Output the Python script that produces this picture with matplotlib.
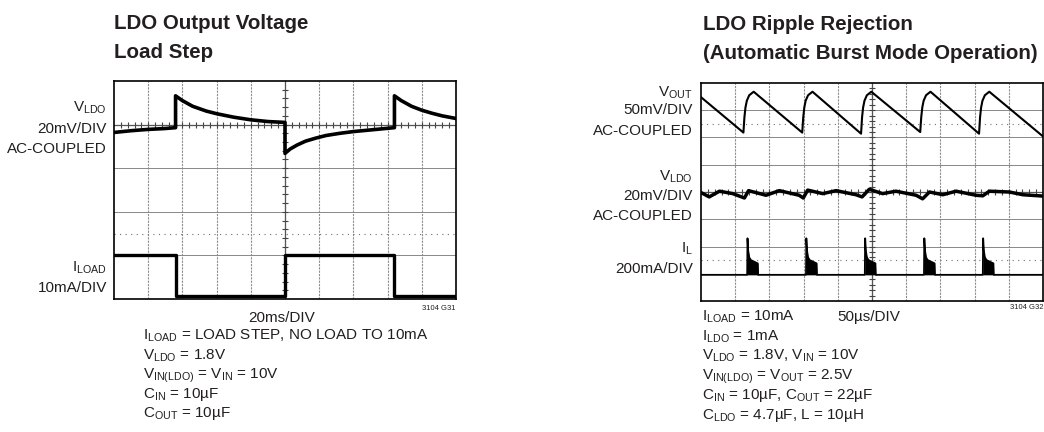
import numpy as np
import matplotlib
matplotlib.use("Agg")
import matplotlib.pyplot as plt

plt.rcParams['font.family'] = ['Liberation Sans', 'DejaVu Sans']
plt.rcParams['mathtext.fontset'] = 'custom'
plt.rcParams['mathtext.rm'] = 'Liberation Sans'

W, H = 1044, 432

# ---- left scope: load step (x in divisions, y in divisions) ----
vldo_t = [0, 0.5, 1.0, 1.5, 1.8, 1.8, 2.0, 2.3, 2.7, 3.0, 3.5, 4.0, 4.5, 5.0,
          5.0, 5.15, 5.35, 5.6, 5.9, 6.2, 6.6, 7.0, 7.4, 7.8, 8.2,
          8.2, 8.4, 8.7, 9.0, 9.3, 9.6, 10.0]
vldo_v = [3.82, 3.86, 3.89, 3.91, 3.93, 4.66, 4.55, 4.42, 4.31, 4.25, 4.17, 4.11, 4.07, 4.05,
          3.34, 3.44, 3.53, 3.62, 3.69, 3.75, 3.80, 3.84, 3.87, 3.90, 3.93,
          4.66, 4.55, 4.42, 4.33, 4.26, 4.20, 4.14]
iload_t = [0, 1.8, 1.8, 5.0, 5.0, 8.2, 8.2, 10.0]
iload_v = [1.0, 1.0, 0.07, 0.07, 1.0, 1.0, 0.07, 0.07]

# ---- right scope: ripple (x in divisions, y in divisions) ----
vout_t = [0,
          1.24, 1.27, 1.30, 1.34, 1.41, 1.54,
          2.96, 2.99, 3.02, 3.06, 3.13, 3.26,
          4.68, 4.71, 4.74, 4.78, 4.85, 4.98,
          6.41, 6.44, 6.47, 6.51, 6.58, 6.71,
          8.13, 8.16, 8.19, 8.23, 8.30, 8.43,
          10.0]
vout_v = [7.48,
          6.18, 6.75, 7.10, 7.35, 7.55, 7.68,
          6.18, 6.75, 7.10, 7.35, 7.55, 7.68,
          6.14, 6.75, 7.10, 7.35, 7.55, 7.68,
          6.20, 6.75, 7.10, 7.35, 7.55, 7.68,
          6.14, 6.75, 7.10, 7.35, 7.55, 7.68,
          6.04]
vldo2_t = [0, 0.24, 0.54, 0.93, 1.27, 1.39, 1.9, 2.29, 2.87, 2.99, 3.12, 3.56, 3.95,
           4.53, 4.71, 4.92, 5.31, 5.7, 6.29, 6.48, 6.68, 7.07, 7.46, 8.04, 8.24,
           8.43, 9.02, 9.41, 10.0]
vldo2_v = [3.98, 3.82, 4.03, 3.94, 3.78, 4.05, 3.88, 4.05, 3.88, 3.78, 4.07, 3.94, 4.05,
           3.90, 3.82, 4.10, 3.94, 4.03, 3.88, 3.75, 4.00, 3.90, 4.03, 3.88, 3.86,
           4.03, 4.00, 3.90, 3.85]
il_t = [0,
        1.35, 1.36, 1.38, 1.41, 1.46, 1.56, 1.66, 1.67,
        3.07, 3.08, 3.10, 3.13, 3.18, 3.28, 3.38, 3.39,
        4.79, 4.80, 4.82, 4.85, 4.90, 5.00, 5.10, 5.11,
        6.52, 6.53, 6.55, 6.58, 6.63, 6.73, 6.83, 6.84,
        8.24, 8.25, 8.27, 8.30, 8.35, 8.45, 8.55, 8.56,
        10.0]
il_v = [0.96,
        0.96, 2.30, 1.85, 1.60, 1.50, 1.44, 1.38, 0.96,
        0.96, 2.30, 1.85, 1.60, 1.50, 1.44, 1.38, 0.96,
        0.96, 2.30, 1.85, 1.60, 1.50, 1.44, 1.38, 0.96,
        0.96, 2.30, 1.85, 1.60, 1.50, 1.44, 1.38, 0.96,
        0.96, 2.30, 1.85, 1.60, 1.50, 1.44, 1.38, 0.96,
        0.96]
il_base = 0.96

fig = plt.figure(figsize=(W / 100, H / 100), dpi=100)


def px(x, y):
    return x / W, 1 - y / H


def scope(rect, ndiv_y, center_y, dotted):
    ax = fig.add_axes(rect)
    ax.set_xlim(0, 10)
    ax.set_ylim(0, ndiv_y)
    ax.set_xticks([])
    ax.set_yticks([])
    for s in ax.spines.values():
        s.set_linewidth(1.2)
    # grid: verticals lighter and finely dotted, horizontals solid grey
    for i in range(1, 10):
        ax.axvline(i, color='#8f8f8f', lw=0.8, ls=(0, (2, 1)), zorder=1)
    for j in range(1, ndiv_y):
        ax.axhline(j, color='#888888', lw=0.7, zorder=1)
    for d in dotted:
        ax.axhline(d, color='#707070', lw=0.8, ls=(0, (1, 4)), zorder=1)
    ax.axhline(center_y, color='#555555', lw=0.9, zorder=1)
    ax.axvline(5, color='#555555', lw=0.9, zorder=1)
    tx = np.arange(0.2, 10, 0.2)
    ax.plot(tx, np.full_like(tx, center_y), ls='none', marker='|', ms=4,
            mew=0.8, color='#444444', zorder=1)
    ty = np.arange(0.2, ndiv_y, 0.2)
    ax.plot(np.full_like(ty, 5), ty, ls='none', marker='_', ms=4,
            mew=0.8, color='#444444', zorder=1)
    return ax


# left panel
axL = scope([114 / W, (H - 299) / H, 342 / W, 218 / H], 5, 4, [1.5])
axL.plot(vldo_t, vldo_v, color='black', lw=2.6, zorder=3)
axL.plot(iload_t, iload_v, color='black', lw=2.4, zorder=3)

# right panel
axR = scope([701 / W, (H - 301) / H, 342 / W, 218 / H], 8, 4, [6.5, 1.5])
axR.plot(vout_t, vout_v, color='black', lw=1.5, zorder=3)
axR.plot(vldo2_t, vldo2_v, color='black', lw=2.5, zorder=3)
axR.plot(il_t, il_v, color='black', lw=1.3, zorder=3)
axR.fill_between(il_t, il_base, il_v, color='black', lw=0, zorder=3)

# titles
tkw = dict(fontsize=14.8, fontweight='bold', color='#231f20', va='baseline')
fig.text(*px(114, 29), 'LDO Output Voltage', **tkw)
fig.text(*px(114, 58), 'Load Step', **tkw)
fig.text(*px(703, 30), 'LDO Ripple Rejection', **tkw)
fig.text(*px(703, 59), '(Automatic Burst Mode Operation)', **tkw)

# channel labels
lkw = dict(fontsize=11, color='#231f20', va='baseline', ha='right')
fig.text(*px(107, 112), r'V$\mathrm{_{LDO}}$', **lkw)
fig.text(*px(107, 133), '20mV/DIV', **lkw)
fig.text(*px(107, 153), 'AC-COUPLED', **lkw)
fig.text(*px(107, 272), r'I$\mathrm{_{LOAD}}$', **lkw)
fig.text(*px(107, 292), '10mA/DIV', **lkw)

fig.text(*px(693, 97), r'V$\mathrm{_{OUT}}$', **lkw)
fig.text(*px(693, 114), '50mV/DIV', **lkw)
fig.text(*px(693, 135), 'AC-COUPLED', **lkw)
fig.text(*px(693, 181), r'V$\mathrm{_{LDO}}$', **lkw)
fig.text(*px(693, 200), '20mV/DIV', **lkw)
fig.text(*px(693, 220), 'AC-COUPLED', **lkw)
fig.text(*px(693, 253), r'I$\mathrm{_{L}}$', **lkw)
fig.text(*px(693, 273), '200mA/DIV', **lkw)

# bottom notes
nkw = dict(fontsize=11, color='#231f20', va='baseline', ha='left')
fig.text(*px(282, 322), '20ms/DIV', fontsize=11, color='#231f20', va='baseline', ha='center')
fig.text(*px(455, 310), '3104 G31', fontsize=5.5, color='#231f20', va='baseline', ha='right')
left_notes = [r'I$\mathrm{_{LOAD}}$ = LOAD STEP, NO LOAD TO 10mA',
              r'V$\mathrm{_{LDO}}$ = 1.8V',
              r'V$\mathrm{_{IN(LDO)}}$ = V$\mathrm{_{IN}}$ = 10V',
              r'C$\mathrm{_{IN}}$ = 10µF',
              r'C$\mathrm{_{OUT}}$ = 10µF']
for k, s in enumerate(left_notes):
    fig.text(*px(143, 340 + 19.3 * k), s, **nkw)

fig.text(*px(837, 321), '50µs/DIV', **nkw)
fig.text(*px(1043, 309), '3104 G32', fontsize=5.5, color='#231f20', va='baseline', ha='right')
right_notes = [r'I$\mathrm{_{LOAD}}$ = 10mA',
               r'I$\mathrm{_{LDO}}$ = 1mA',
               r'V$\mathrm{_{LDO}}$ = 1.8V, V$\mathrm{_{IN}}$ = 10V',
               r'V$\mathrm{_{IN(LDO)}}$ = V$\mathrm{_{OUT}}$ = 2.5V',
               r'C$\mathrm{_{IN}}$ = 10µF, C$\mathrm{_{OUT}}$ = 22µF',
               r'C$\mathrm{_{LDO}}$ = 4.7µF, L = 10µH']
for k, s in enumerate(right_notes):
    fig.text(*px(702, 321 + 19.5 * k), s, **nkw)

fig.savefig('out.png', dpi=100)
